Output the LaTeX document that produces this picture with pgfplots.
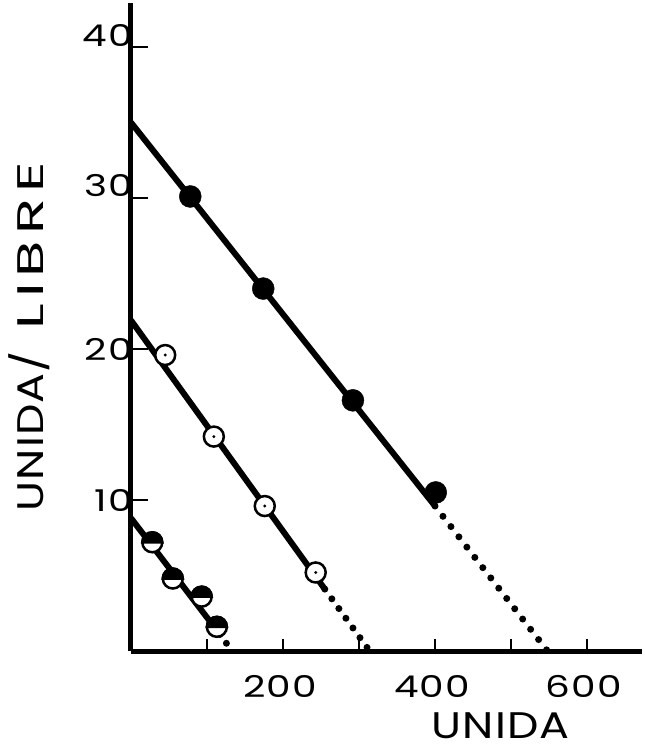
\documentclass[border=0pt]{standalone}
\usepackage{pgfplots}
\pgfplotsset{compat=1.18}
\usepackage{fontspec}
\setmainfont{Poppins}
\newfontfamily\tickfont[FakeStretch=1.3, LetterSpace=4]{Poppins}
\newfontfamily\labfont[FakeStretch=1.2, LetterSpace=3]{Poppins}
\newfontfamily\libfont[FakeStretch=1.6, LetterSpace=16]{Poppins}
\pgfdeclareplotmark{tophalf}{%
  \pgfpathcircle{\pgfpointorigin}{\pgfplotmarksize}%
  \pgfsetfillcolor{white}\pgfusepathqfillstroke
  \pgfpathmoveto{\pgfqpoint{\pgfplotmarksize}{0pt}}%
  \pgfpatharc{0}{180}{\pgfplotmarksize}%
  \pgfpathclose
  \pgfsetfillcolor{black}\pgfusepathqfillstroke
}
\pgfdeclareplotmark{dotcircle}{%
  \pgfpathcircle{\pgfpointorigin}{\pgfplotmarksize}%
  \pgfsetfillcolor{white}\pgfusepathqfillstroke
  \pgfpathcircle{\pgfpointorigin}{1.6pt}%
  \pgfsetfillcolor{black}\pgfusepathqfill
}
\begin{document}
\begin{tikzpicture}
\begin{axis}[
  x=0.76pt, y=15.1pt,
  xmin=0, xmax=672, ymin=0, ymax=42.9,
  axis x line*=bottom,
  axis y line*=left,
  axis line style={line width=5pt, -},
  clip=false,
  tick align=inside,
  xtick pos=bottom,
  ytick pos=left,
  major tick length=13pt,
  tick style={draw=none},
  xtick={100,200,300,400,500,600},
  xticklabels={,200,,400,,600},
  ytick={10,20,30,40},
  yticklabels={10,20,\raisebox{12pt}[\height][\depth]{30},\raisebox{12pt}[\height][\depth]{40}},
  ticklabel style={font=\tickfont\fontsize{30}{36}\selectfont},
  xticklabel style={inner sep=0pt, anchor=north, yshift=-24pt, xshift=-3pt},
  yticklabel style={inner sep=0pt, anchor=east, xshift=2pt},
  xlabel={UNIDA},
  ylabel={UNIDA/\hspace{22pt}{\libfont LIBRE}},
  every axis x label/.style={at={(rel axis cs:0.724,0)}, yshift=-75pt, anchor=center, font=\labfont\fontsize{37}{44}\selectfont},
  every axis y label/.style={at={(rel axis cs:0,0.485)}, xshift=-102pt, rotate=90, anchor=center, font=\labfont\fontsize{37}{44}\selectfont},
]
% tick marks (drawn inward)
\pgfplotsinvokeforeach{100,200,300,400,500,600}{\draw[line width=2.2pt] (axis cs:#1,0) -- ++(0pt,12pt);}
\pgfplotsinvokeforeach{10,20,30,40}{\draw[line width=2.2pt] (axis cs:0,#1) -- ++(17pt,0pt);}
% fitted lines
\addplot[line width=6pt] coordinates {(0,35.0) (400,9.6)};
\addplot[line width=7pt, line cap=round, dash pattern=on 0pt off 13pt] coordinates {(400,9.6) (548,0)};
\addplot[line width=6pt] coordinates {(0,21.9) (255,4.1)};
\addplot[line width=7pt, line cap=round, dash pattern=on 0pt off 12pt] coordinates {(255,4.1) (314,0)};
\addplot[line width=6pt] coordinates {(0,8.8) (117,1.1)};
\addplot[line width=7pt, line cap=round, dash pattern=on 0pt off 11pt] coordinates {(117,1.1) (133,0)};
% data points
\addplot[only marks, mark=*, mark size=11pt, fill=black] coordinates {(78,30.1) (174,24.0) (292,16.6) (401,10.5)};
\addplot[only marks, mark=dotcircle, mark size=10pt, line width=2.5pt] coordinates {(45,19.6) (109,14.2) (176,9.6) (243,5.2)};
\addplot[only marks, mark=tophalf, mark size=10pt, line width=2.5pt] coordinates {(28,7.2) (55,4.8) (93,3.6) (113,1.6)};
% bounding box matching reference proportions
\path (rel axis cs:0,0) ++(-131pt,-100pt) rectangle ++(642pt,751pt);
\end{axis}
\end{tikzpicture}
\end{document}
